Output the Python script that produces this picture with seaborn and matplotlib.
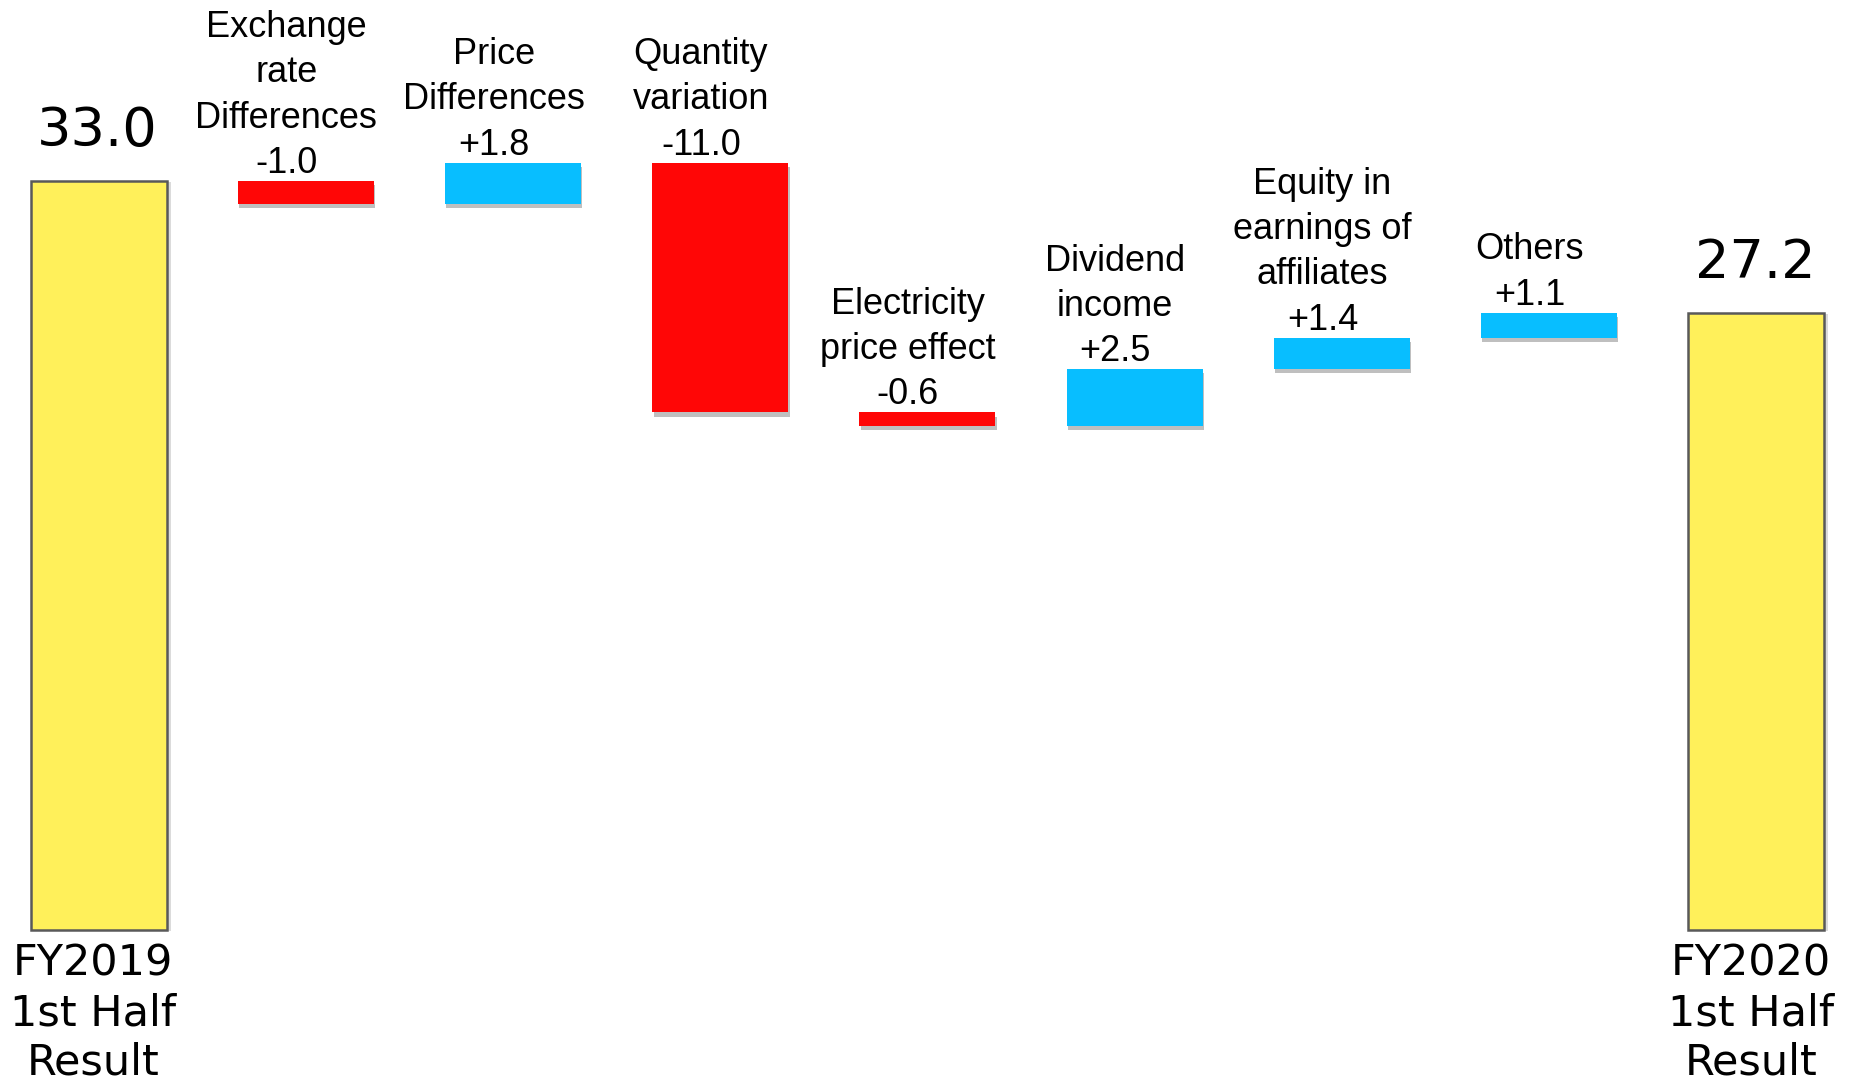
import pandas as pd
import matplotlib
matplotlib.use("Agg")
import matplotlib.pyplot as plt
import matplotlib.patheffects as pe
import seaborn as sns

# Chart data
names = ["FY2019\n1st Half\nResult", "Exchange\nrate\nDifferences", "Price\nDifferences",
         "Quantity\nvariation", "Electricity\nprice effect", "Dividend\nincome",
         "Equity in\nearnings of\naffiliates", "Others", "FY2020\n1st Half\nResult"]
values = [33.0, -1.0, 1.8, -11.0, -0.6, 2.5, 1.4, 1.1, 27.2]
kinds = ["total", "down", "up", "down", "down", "up", "up", "up", "total"]

palette = {"total": "#FFF05A", "down": "#FF0606", "up": "#08BEFF"}

# Waterfall layout: bottom and height of each bar
bottoms, heights = [], []
level = 0.0
for v, k in zip(values, kinds):
    if k == "total":
        bottoms.append(0.0)
        heights.append(v)
        level = v
    else:
        end = level + v
        bottoms.append(min(level, end))
        heights.append(abs(v))
        level = end

df = pd.DataFrame({"pos": range(len(names)), "height": heights, "kind": kinds})

sns.set_theme(style="white")
fig = plt.figure(figsize=(18.53, 10.83), dpi=100)
ax = fig.add_axes([0, 0, 1, 1])

sns.barplot(data=df, x="pos", y="height", hue="kind", palette=palette,
            dodge=False, width=0.656, legend=False, ax=ax, saturation=1)

for p in ax.patches:
    i = int(round(p.get_x() + p.get_width() / 2))
    p.set_y(bottoms[i])
    if kinds[i] == "total":
        p.set_edgecolor("#595959")
        p.set_linewidth(1.8)
        p.set_path_effects([pe.SimplePatchShadow(offset=(3, -1), shadow_rgbFace="0.6", alpha=0.35),
                            pe.Normal()])
    else:
        p.set_edgecolor("none")
        p.set_path_effects([pe.SimplePatchShadow(offset=(1, -3), shadow_rgbFace="0.45", alpha=0.45),
                            pe.Normal()])

# Labels
for i, (n, v, k) in enumerate(zip(names, values, kinds)):
    top = bottoms[i] + heights[i]
    if k == "total":
        ax.annotate(f"{v:.1f}", (i, top), xytext=(-1, 25), textcoords="offset points",
                    ha="center", va="baseline", fontsize=39, family="DejaVu Sans",
                    color="black")
        ax.annotate(n, (i, 0), xytext=(-4, -9), textcoords="offset points",
                    ha="center", va="top", fontsize=31, family="DejaVu Sans",
                    linespacing=1.23, color="black")
    else:
        ax.annotate(f"{n}\n{v:+.1f}", (i, top), xytext=(-14, 0), textcoords="offset points",
                    ha="center", va="bottom", fontsize=26, family="Liberation Sans",
                    linespacing=1.38, color="black")

ax.set_xlim(-0.476, 8.467)
ax.set_ylim(-6.74, 40.97)
ax.axis("off")

fig.savefig("out.png", dpi=100)
